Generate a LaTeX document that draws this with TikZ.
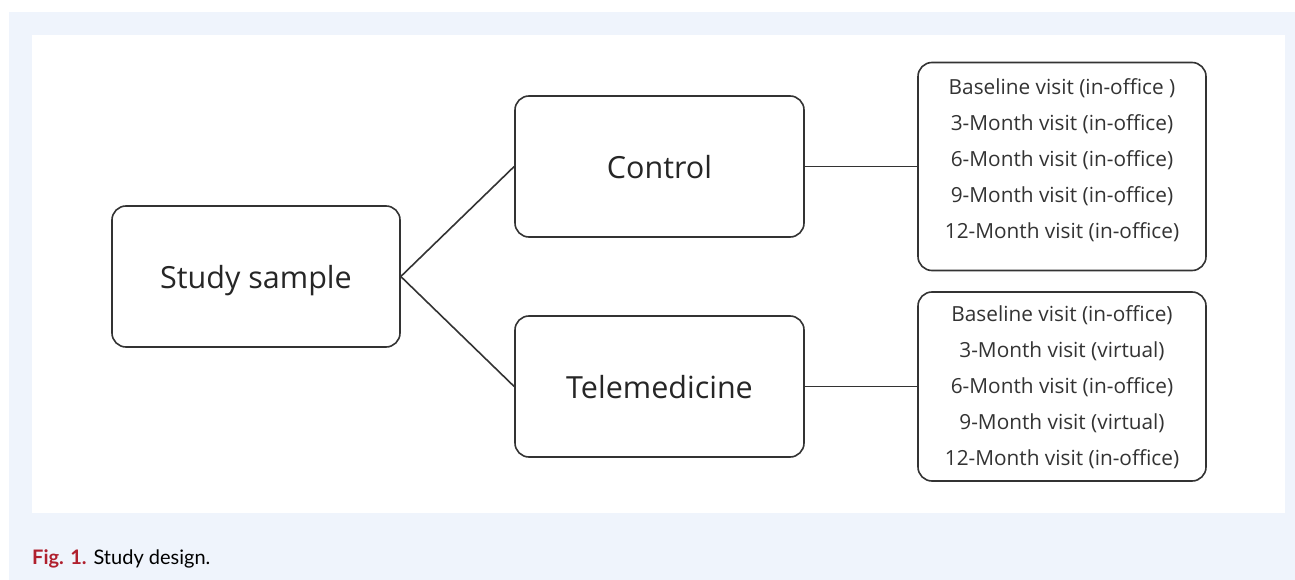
\documentclass[tikz,border=0pt]{standalone}
\usepackage{fontspec}
\setmainfont{Open Sans}
\newfontfamily\capfont{Lato}
\definecolor{panelblue}{HTML}{EFF4FC}
\definecolor{edge}{HTML}{333333}
\definecolor{figred}{HTML}{B0202E}
\begin{document}
\begin{tikzpicture}[x=1pt,y=-1pt,
  box/.style={draw=edge,line width=1.6pt,rounded corners=14pt,fill=white,inner sep=0pt},
  big/.style={font=\fontsize{30.5}{36}\selectfont,text=black!85,text depth=0pt},
  small/.style={font=\fontsize{20.8}{36}\selectfont,text=black!80,align=center},
  conn/.style={draw=edge,line width=1.6pt}]
\useasboundingbox (0,0) rectangle (1295,580);
\fill[panelblue] (9,12) rectangle (1295,580);
\fill[white] (32,35) rectangle (1285,513);
% boxes
\node[box,minimum width=288pt,minimum height=141pt,big] (study) at (256,276.5) {Study sample};
\node[box,minimum width=289pt,minimum height=141pt,big] (control) at (659.5,166.5) {Control};
\node[box,minimum width=289pt,minimum height=141pt,big] (tele) at (659.5,386.5) {Telemedicine};
\node[box,minimum width=288pt,minimum height=208pt] (cvis) at (1062,166.5) {};
\node[box,minimum width=288pt,minimum height=189pt] (tvis) at (1062,386.5) {};
% list texts
\node[small] (c1) at (1062,88) {Baseline visit (in-office )};
\node[small] (c2) at (1062,124) {3-Month visit (in-office)};
\node[small] (c3) at (1062,160) {6-Month visit (in-office)};
\node[small] (c4) at (1062,196) {9-Month visit (in-office)};
\node[small] (c5) at (1062,232) {12-Month visit (in-office)};
\node[small] (t1) at (1062,315) {Baseline visit (in-office)};
\node[small] (t2) at (1062,351) {3-Month visit (virtual)};
\node[small] (t3) at (1062,387) {6-Month visit (in-office)};
\node[small] (t4) at (1062,423) {9-Month visit (virtual)};
\node[small] (t5) at (1062,459) {12-Month visit (in-office)};
% connectors
\draw[conn] (study.east) -- (control.west);
\draw[conn] (study.east) -- (tele.west);
\draw[conn] (control.east) -- (control.east -| cvis.west);
\draw[conn] (tele.east) -- (tele.east -| tvis.west);
% caption
\node[anchor=base west,inner sep=0pt,font=\capfont\fontsize{20}{22}\selectfont] (cap) at (32,564) {\textcolor{figred}{\textbf{Fig. 1.}} Study design.};
\end{tikzpicture}
\end{document}
